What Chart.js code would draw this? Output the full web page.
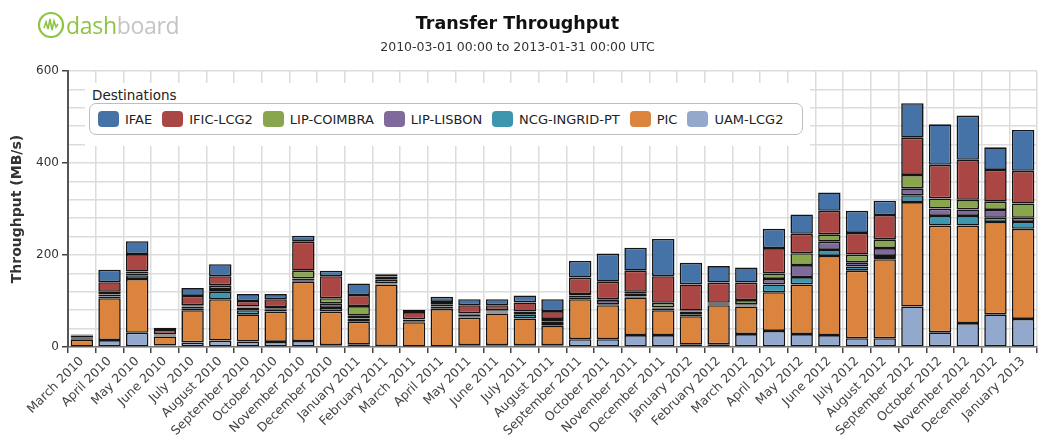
<!DOCTYPE html>
<html>
<head>
<meta charset="utf-8">
<script src="https://cdn.jsdelivr.net/npm/chart.js@4"></script>
<style>
  html, body { margin: 0; padding: 0; background: #fff; }
  #wrap { position: relative; width: 1039px; height: 447px; overflow: hidden; font-family: "DejaVu Sans", sans-serif; }
  #c { position: absolute; left: 0; top: 0; }
  #logo { position: absolute; left: 37px; top: 10px; height: 30px; display: flex; align-items: center; font-family: "Open Sans", "DejaVu Sans", sans-serif; font-size: 23px; letter-spacing: -0.3px; }
  #logo .d { color: #8dc540; }
  #logo .b { color: #c4c4c4; }
  #title { position: absolute; left: 0; width: 1035px; top: 13px; text-align: center; font-weight: bold; font-size: 17.5px; color: #111; }
  #sub { position: absolute; left: 0; width: 1035px; top: 39px; text-align: center; font-size: 12.5px; color: #333; }
  #legend { position: absolute; left: 85px; top: 83px; width: 725px; height: 63px; background: #fff; }
  #legend .lt { position: absolute; left: 7px; top: 4px; font-size: 13.5px; color: #222; }
  #legend .box { position: absolute; left: 4px; top: 20px; width: 711px; height: 30px; border: 1.5px solid #bdbdbd; border-radius: 7px; display: flex; align-items: center; padding-left: 8px; box-sizing: border-box; width: 714px; height: 32px; }
  #legend .it { display: flex; align-items: center; margin-right: 10px; font-size: 13px; color: #222; white-space: nowrap; }
  #legend .sw { width: 21px; height: 16px; border-radius: 4px; margin-right: 6px; }
</style>
</head>
<body>
<div id="wrap">
  <canvas id="c" width="1039" height="447"></canvas>
  <div id="logo">
    <svg width="28" height="28" viewBox="0 0 28 28" style="margin-right:1px">
      <circle cx="14" cy="14" r="12" fill="none" stroke="#8dc540" stroke-width="2.2"/>
      <path d="M7 17 L9 11 L11 18 L13 8 L15 19 L17 10 L19 16 L21 13" fill="none" stroke="#8dc540" stroke-width="1.6"/>
    </svg>
    <span class="d">dash</span><span class="b">board</span>
  </div>
  <div id="title">Transfer Throughput</div>
  <div id="sub">2010-03-01 00:00 to 2013-01-31 00:00 UTC</div>
  <div id="legend"><div class="lt">Destinations</div><div class="box" id="legbox"></div></div>
</div>
<script>
const categories = ["March 2010","April 2010","May 2010","June 2010","July 2010","August 2010","September 2010","October 2010","November 2010","December 2010","January 2011","February 2011","March 2011","April 2011","May 2011","June 2011","July 2011","August 2011","September 2011","October 2011","November 2011","December 2011","January 2012","February 2012","March 2012","April 2012","May 2012","June 2012","July 2012","August 2012","September 2012","October 2012","November 2012","December 2012","January 2013"];

const seriesNames = ["IFAE","IFIC-LCG2","LIP-COIMBRA","LIP-LISBON","NCG-INGRID-PT","PIC","UAM-LCG2"];
const seriesColors = ["#4572A7","#AA4643","#89A54E","#80699B","#3D96AE","#DB843D","#92A8CD"];

const ifae       = [2,27,28,5,17,26,15,11,13,12,25,5,5,11,13,13,15,26,36,61,50,81,47,36,33,42,42,40,48,31,75,88,96,49,89];
const ificLcg2   = [3,21,38,9,20,20,12,17,63,48,24,7,16,6,18,11,20,17,36,38,46,58,57,44,38,55,42,51,47,53,81,73,87,69,71];
const lipCoimbra = [2,6,4,1,3,8,2,3,17,11,21,8,1,4,3,3,3,5,3,2,3,10,2,2,9,12,26,16,17,19,29,22,21,18,31];
const lipLisbon  = [2,4,4,2,5,6,6,3,5,10,6,1,3,3,3,2,3,6,5,9,7,3,7,2,3,12,26,18,9,17,15,16,14,17,9];
const ncgIngrid  = [2,4,8,2,3,16,9,4,2,8,7,1,2,2,3,2,9,4,3,2,2,3,3,1,2,17,16,13,9,7,15,21,21,9,15];
const pic        = [15,91,117,20,70,90,59,66,129,73,50,134,53,82,60,69,58,42,87,74,82,54,62,85,60,84,108,172,147,172,227,232,212,201,196];
const uamLcg2    = [1,15,31,3,10,14,12,11,13,4,5,2,1,1,4,4,4,4,17,17,26,26,5,6,28,35,28,26,19,19,88,32,52,71,61];

const yTickValues = [0,200,400,600];

const seriesData = [ifae, ificLcg2, lipCoimbra, lipLisbon, ncgIngrid, pic, uamLcg2];

// legend (HTML)
const legbox = document.getElementById('legbox');
seriesNames.forEach((n,i)=>{
  const it = document.createElement('div'); it.className='it';
  const sw = document.createElement('div'); sw.className='sw'; sw.style.background = seriesColors[i];
  const tx = document.createElement('span'); tx.textContent = n;
  it.appendChild(sw); it.appendChild(tx); legbox.appendChild(it);
});

// datasets bottom-up: UAM first ... IFAE last
const datasets = [];
for (let i = seriesNames.length - 1; i >= 0; i--) {
  datasets.push({
    label: seriesNames[i],
    data: seriesData[i],
    backgroundColor: seriesColors[i],
    borderColor: '#141414',
    borderWidth: 1.6,
    borderSkipped: false,
    barPercentage: 0.81,
    categoryPercentage: 1.0,
    stack: 's'
  });
}

new Chart(document.getElementById('c'), {
  type: 'bar',
  data: { labels: categories, datasets },
  options: {
    responsive: false,
    devicePixelRatio: 1,
    animation: false,
    layout: { padding: { top: 71, right: 2, left: 0, bottom: 0 } },
    plugins: { legend: { display: false }, tooltip: { enabled: false }, title: { display: false } },
    scales: {
      x: {
        stacked: true,
        grid: { color: '#dcdcdc', lineWidth: 1.5, offset: true, tickLength: 6, tickColor: '#444', tickWidth: 1.5 },
        border: { color: '#777', width: 1.5 },
        ticks: { autoSkip: false, maxRotation: 45, minRotation: 45, font: { family: 'DejaVu Sans', size: 12.5 }, color: '#444', padding: 1 },
        afterFit: (s) => { s.height = 100; }
      },
      y: {
        stacked: true,
        min: 0, max: 600,
        grid: {
          color: '#dcdcdc', lineWidth: 1.5, tickLength: 6, tickWidth: 1.5,
          tickColor: (ctx) => (ctx.tick && yTickValues.includes(ctx.tick.value)) ? '#444' : 'rgba(0,0,0,0)'
        },
        border: { color: '#555', width: 2 },
        ticks: {
          stepSize: 40,
          font: { family: 'DejaVu Sans', size: 12 }, color: '#333', padding: 3,
          callback: (v) => yTickValues.includes(v) ? String(v) : ''
        },
        title: { display: true, text: 'Throughput (MB/s)', font: { family: 'DejaVu Sans', size: 14, weight: 'bold' }, color: '#333', padding: { top: 9, bottom: 0 } },
        afterFit: (s) => { s.width = 68; }
      }
    }
  }
});
</script>
</body>
</html>
